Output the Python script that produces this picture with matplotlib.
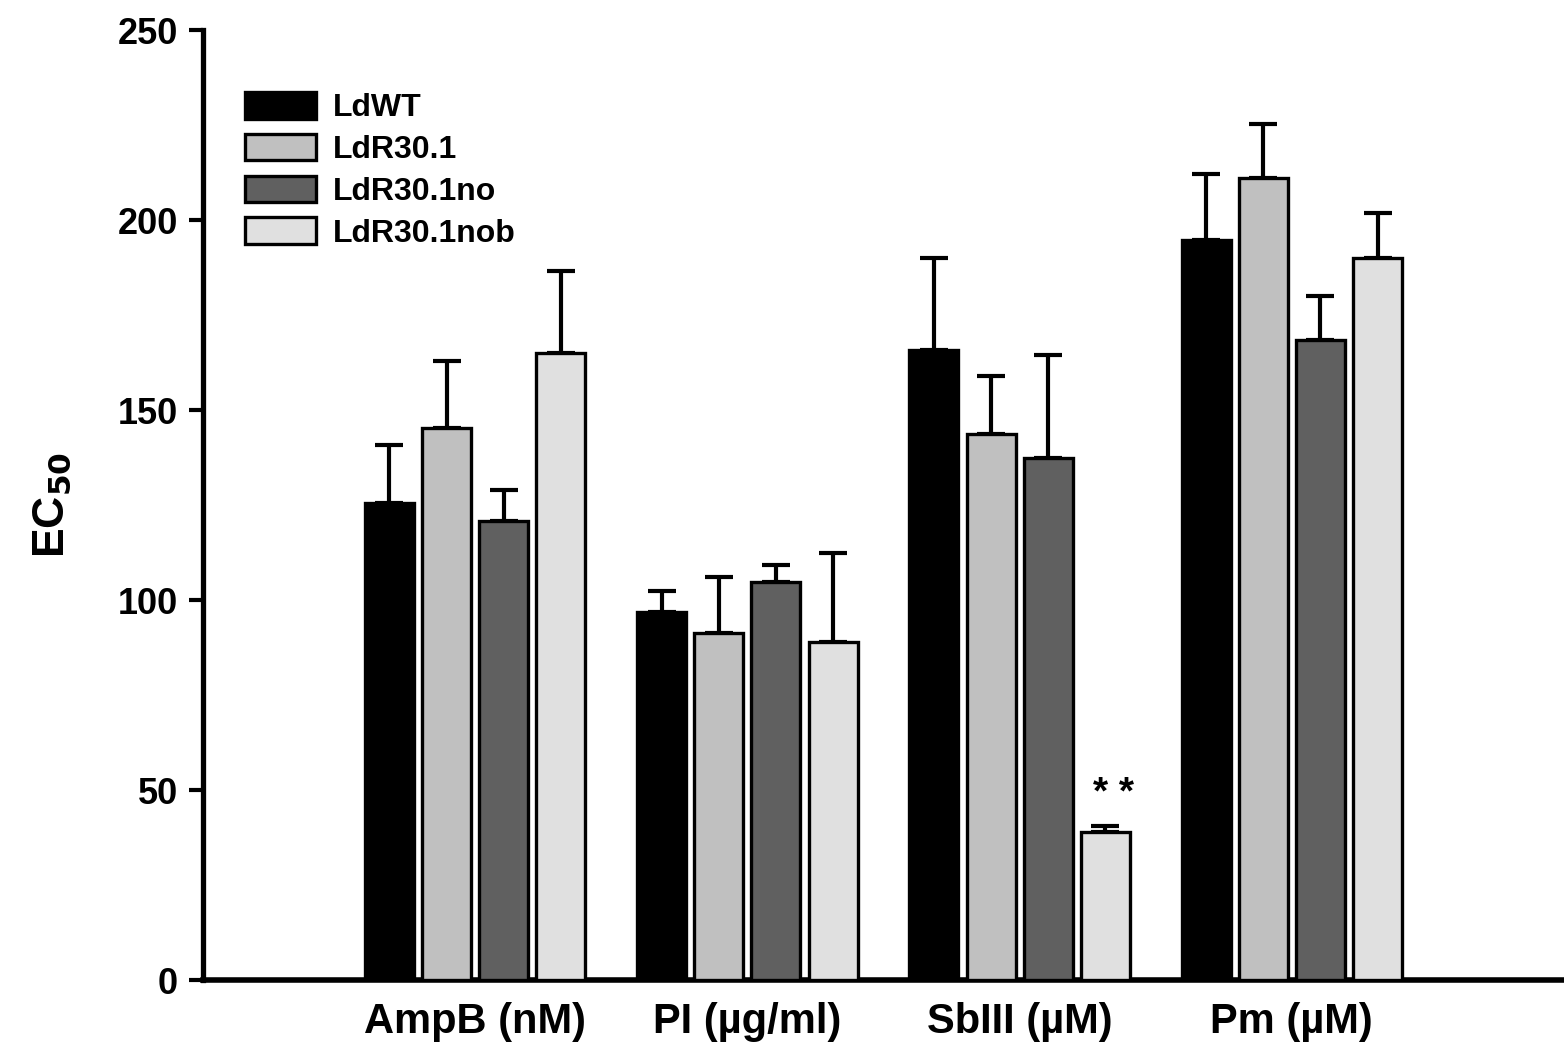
import numpy as np
import matplotlib.pyplot as plt

plt.rcParams['font.family'] = ['Liberation Sans', 'DejaVu Sans']
plt.rcParams['font.weight'] = 'bold'

groups = ["AmpB (nM)", "PI (µg/ml)", "SbIII (µM)", "Pm (µM)"]
strains = ["LdWT", "LdR30.1", "LdR30.1no", "LdR30.1nob"]
colors = ["#000000", "#c0c0c0", "#606060", "#e0e0e0"]

ldwt = [125.5, 96.8, 165.8, 194.7]
ldr301 = [145.3, 91.3, 143.7, 211.0]
ldr301no = [120.8, 104.7, 137.4, 168.4]
ldr301nob = [165.0, 89.0, 39.0, 190.0]
means = [ldwt, ldr301, ldr301no, ldr301nob]

ldwt_err = [15.3, 5.6, 24.2, 17.3]
ldr301_err = [17.7, 14.7, 15.3, 14.3]
ldr301no_err = [8.2, 4.5, 27.1, 11.6]
ldr301nob_err = [21.6, 23.4, 1.5, 11.8]
errs = [ldwt_err, ldr301_err, ldr301no_err, ldr301nob_err]

fig = plt.figure(figsize=(15.64, 10.53), dpi=100)
ax = fig.add_axes([0.1298, 0.0693, 0.8702, 0.9022])

x = np.arange(len(groups))
step = 0.21
width = 0.18
for i in range(len(strains)):
    pos = x + (i - 1.5) * step
    ax.bar(pos, means[i], width, color=colors[i], edgecolor="black", linewidth=2.4,
           label=strains[i], zorder=3)
    ax.errorbar(pos, means[i], yerr=[np.zeros(len(groups)), errs[i]], fmt="none",
                ecolor="black", elinewidth=3, capsize=10, capthick=3, zorder=2)

ax.text(x[2] + 1.5 * step + 0.03, 49, "* *", ha="center", va="center", fontsize=28)

ax.set_xlim(-1, 4)
ax.set_ylim(0, 250)
ax.set_yticks([0, 50, 100, 150, 200, 250])
ax.set_xticks(x)
ax.set_xticklabels(groups, fontsize=30, fontweight="bold")
ax.tick_params(axis="x", length=0, pad=16)
ax.tick_params(axis="y", labelsize=26, width=3, length=10, direction="out", pad=8)
for t in ax.get_yticklabels():
    t.set_fontweight("bold")

ax.spines["top"].set_visible(False)
ax.spines["right"].set_visible(False)
ax.spines["left"].set_linewidth(3.8)
ax.spines["bottom"].set_linewidth(4)

ax.set_ylabel("EC$_{50}$", fontsize=32, fontweight="bold", labelpad=32)

ax.legend(loc="upper left", bbox_to_anchor=(0.01, 0.965), frameon=False, fontsize=23,
          handlelength=2.2, handleheight=0.9, labelspacing=0.33, handletextpad=0.55)

fig.savefig("out.png", dpi=100)
